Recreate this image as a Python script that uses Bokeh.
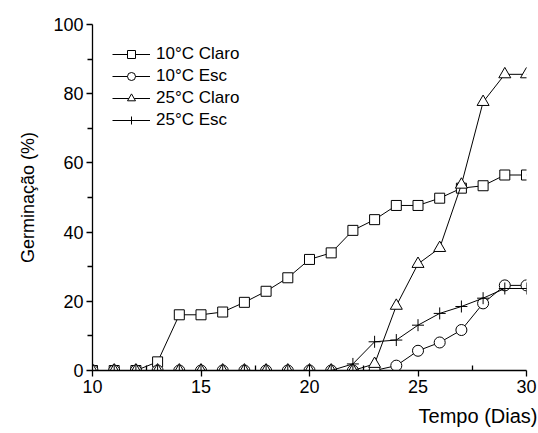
from bokeh.plotting import figure
from bokeh.models import Range1d, FixedTicker, Legend, LegendItem, Title
from bokeh.embed import file_html
from bokeh.resources import INLINE

# ---- data ----
days = [10, 11, 12, 13, 14, 15, 16, 17, 18, 19, 20, 21, 22, 23, 24, 25, 26, 27, 28, 29, 30]
claro_10 = [0, 0, 0, 2.5, 16.1, 16.1, 16.9, 19.7, 22.9, 26.8, 32.1, 34.0, 40.5, 43.6,
            47.7, 47.7, 49.8, 52.7, 53.4, 56.5, 56.5]
esc_10 = [0, 0, 0, 0, 0, 0, 0, 0, 0, 0, 0, 0, 0, 0,
          1.4, 5.7, 8.1, 11.7, 19.4, 24.6, 24.6]
claro_25 = [0, 0, 0, 0, 0, 0, 0, 0, 0, 0, 0, 0, 0, 1.9,
            18.7, 30.8, 35.4, 53.7, 77.6, 85.6, 85.6]
esc_25 = [0, 0, 0, 0, 0, 0, 0, 0, 0, 0, 0, 0, 1.9, 8.3,
          8.8, 13.1, 16.5, 18.5, 20.9, 23.7, 23.7]

series_labels = ["10°C Claro", "10°C Esc", "25°C Claro", "25°C Esc"]
x_ticks = [10, 15, 20, 25, 30]
y_ticks = [0, 20, 40, 60, 80, 100]

FONT = "Liberation Sans"

p = figure(width=538, height=433, x_range=Range1d(10, 30), y_range=Range1d(0, 100),
           output_backend="svg", toolbar_location=None,
           min_border_left=92, min_border_right=12, min_border_top=24, min_border_bottom=10)
p.outline_line_color = None
p.xgrid.visible = False
p.ygrid.visible = False
p.background_fill_color = "white"
p.border_fill_color = "white"

# axes
p.xaxis.ticker = FixedTicker(ticks=x_ticks, minor_ticks=[12.5, 17.5, 22.5, 27.5])
p.yaxis.ticker = FixedTicker(ticks=y_ticks, minor_ticks=[10, 30, 50, 70, 90])
for ax in (p.xaxis[0], p.yaxis[0]):
    ax.axis_line_color = "black"
    ax.axis_line_width = 1.3
    ax.major_tick_line_color = "black"
    ax.major_tick_line_width = 1.3
    ax.minor_tick_line_color = "black"
    ax.minor_tick_line_width = 1.3
    ax.major_label_text_font = FONT
    ax.major_label_text_font_size = "18px"
    ax.major_label_text_color = "black"
    ax.major_label_standoff = 3

p.xaxis.major_tick_out = 6
p.xaxis.major_tick_in = 0
p.xaxis.minor_tick_out = 0
p.xaxis.minor_tick_in = 5

p.yaxis.major_tick_out = 6
p.yaxis.major_tick_in = 0
p.yaxis.minor_tick_out = 5
p.yaxis.minor_tick_in = 0

p.yaxis.axis_label = "Germinação (%)"
p.yaxis.axis_label_text_font = FONT
p.yaxis.axis_label_text_font_size = "18px"
p.yaxis.axis_label_text_font_style = "normal"
p.yaxis.axis_label_text_color = "black"
p.yaxis.axis_label_standoff = 12

# series
markers = ["square", "circle", "triangle", "cross"]
sizes = [10, 11, 12, 12]
values = [claro_10, esc_10, claro_25, esc_25]
items = []
for lab, mk, sz, ys in zip(series_labels, markers, sizes, values):
    ln = p.line(days, ys, line_color="black", line_width=1)
    sc = p.scatter(days, ys, marker=mk, size=sz, line_color="black", line_width=1,
                   fill_color="white")
    items.append(LegendItem(label=lab, renderers=[ln, sc]))

legend = Legend(items=items, location="top_left")
legend.border_line_color = None
legend.background_fill_alpha = 0
legend.label_text_font = FONT
legend.label_text_font_size = "17px"
legend.label_text_color = "black"
legend.glyph_width = 38
legend.glyph_height = 20
legend.label_standoff = 6
legend.label_height = 20
legend.spacing = 2
legend.margin = 20
legend.padding = 0
p.add_layout(legend)

# x-axis title at lower right
xtitle = Title(text="Tempo (Dias)", align="right", offset=-11, standoff=14,
               text_font=FONT, text_font_size="20px", text_color="black",
               text_font_style="normal")
p.add_layout(xtitle, "below")

open("out.html", "w").write(file_html(p, INLINE))
